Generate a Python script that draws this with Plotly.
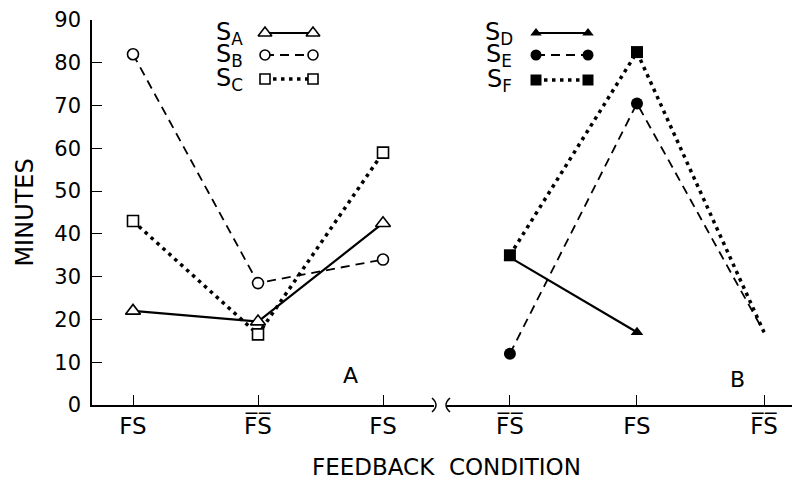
import plotly.graph_objects as go

# ---------------- data ----------------
x_a = [1, 2, 3]
x_b = [4, 5, 6]
tick_text_a = ["FS", "F\u0305S\u0305", "FS"]
tick_text_b = ["F\u0305S\u0305", "FS", "F\u0305S\u0305"]

s_a = [22, 19.5, 42.5]
s_b = [82, 28.5, 34]
s_c = [43, 16.5, 59]
s_d = [34.5, 17, None]
s_e = [12, 70.5, 17]
s_f = [35, 82.5, 17]

names_a = ["S<sub>A</sub>", "S<sub>B</sub>", "S<sub>C</sub>"]
names_b = ["S<sub>D</sub>", "S<sub>E</sub>", "S<sub>F</sub>"]

FONT = "DejaVu Sans"
INK = "black"

# ---------------- styles ----------------
solid = dict(color=INK, width=2.2)
dashed = dict(color=INK, width=1.8, dash="9px,6px")
dotted = dict(color=INK, width=3.5, dash="3.5px,4.5px")

open_tri = dict(symbol="triangle-up", size=13, color="white", opacity=1, line=dict(width=1.6, color=INK))
open_circ = dict(symbol="circle", size=11, color="white", opacity=1, line=dict(width=1.6, color=INK))
open_sq = dict(symbol="square", size=11, color="white", opacity=1, line=dict(width=1.6, color=INK))
fill_tri = dict(symbol="triangle-up", size=11, color=INK, opacity=1, line=dict(width=0, color=INK))
fill_circ = dict(symbol="circle", size=12, color=INK, opacity=1, line=dict(width=0, color=INK))
fill_sq = dict(symbol="square", size=12, color=INK, opacity=1, line=dict(width=0, color=INK))

fig = go.Figure()

# Panel A
for ys, ln, mk in [(s_a, solid, open_tri), (s_b, dashed, open_circ), (s_c, dotted, open_sq)]:
    fig.add_trace(go.Scatter(x=x_a, y=ys, mode="lines+markers", line=ln, marker=mk,
                             xaxis="x", yaxis="y", showlegend=False, cliponaxis=False))

# Panel B (last points drawn without a visible marker, as in the original)
for ys, ln, mk in [(s_d, solid, fill_tri), (s_e, dashed, fill_circ), (s_f, dotted, fill_sq)]:
    m = dict(mk)
    m["size"] = [mk["size"], mk["size"], 0]
    fig.add_trace(go.Scatter(x=x_b, y=ys, mode="lines+markers", line=ln, marker=m,
                             xaxis="x2", yaxis="y", showlegend=False, cliponaxis=False))

# ---------------- hand-drawn style legends (overlay pixel axis) ----------------
LEG_A = dict(text_x=229, x0=265, x1=313, rows=[33, 55, 79])
LEG_B = dict(text_x=499, x0=536, x1=588, rows=[33, 55, 80])
annotations = []
for leg, names, styles in [
    (LEG_A, names_a, [(solid, open_tri), (dashed, open_circ), (dotted, open_sq)]),
    (LEG_B, names_b, [(solid, fill_tri), (dashed, fill_circ), (dotted, fill_sq)]),
]:
    for name, row, (ln, mk) in zip(names, leg["rows"], styles):
        m = dict(mk)
        m["size"] = mk["size"] - 1
        fig.add_trace(go.Scatter(x=[leg["x0"], leg["x1"]], y=[row, row], mode="lines+markers",
                                 line=ln, marker=m, xaxis="x3", yaxis="y3",
                                 showlegend=False, cliponaxis=False, hoverinfo="skip"))
        annotations.append(dict(x=leg["text_x"], y=row, xref="x3", yref="y3", text=name,
                                showarrow=False, font=dict(family=FONT, size=24, color=INK),
                                xanchor="center", yanchor="middle"))

# panel letters
annotations.append(dict(x=2.74, y=7, xref="x", yref="y", text="A", showarrow=False,
                        font=dict(family=FONT, size=22, color=INK)))
annotations.append(dict(x=5.79, y=6, xref="x2", yref="y", text="B", showarrow=False,
                        font=dict(family=FONT, size=22, color=INK)))
# axis titles
annotations.append(dict(x=0.506, y=-0.161, xref="paper", yref="paper",
                        text="FEEDBACK  CONDITION", showarrow=False,
                        font=dict(family=FONT, size=23, color=INK),
                        xanchor="center", yanchor="middle"))
annotations.append(dict(x=-0.097, y=0.5, xref="paper", yref="paper", text="MINUTES",
                        textangle=-90, showarrow=False,
                        font=dict(family=FONT, size=24, color=INK),
                        xanchor="center", yanchor="middle"))

# axis break marks
PW, PH = 700.0, 385.0
def px(xp):
    return (xp - 92) / PW
def py(yp):
    return (405 - yp) / PH
shapes = [
    dict(type="path", xref="paper", yref="paper",
         path=f"M {px(432)} {py(398)} Q {px(440)} {py(405)} {px(432)} {py(412)}",
         line=dict(color=INK, width=1.5)),
    dict(type="path", xref="paper", yref="paper",
         path=f"M {px(450)} {py(398)} Q {px(442)} {py(405)} {px(450)} {py(412)}",
         line=dict(color=INK, width=1.5)),
]

xcommon = dict(showline=True, linecolor=INK, linewidth=1.6, ticks="inside", ticklen=10,
               tickwidth=1.4, tickcolor=INK, showgrid=False, zeroline=False,
               tickfont=dict(family=FONT, size=23, color=INK), anchor="y")

fig.update_layout(
    width=796, height=479,
    margin=dict(l=92, r=4, t=20, b=74),
    paper_bgcolor="white", plot_bgcolor="rgba(0,0,0,0)",
    showlegend=False,
    xaxis=dict(domain=[0, 0.4886], range=[0.672, 3.408], tickmode="array",
               tickvals=x_a, ticktext=tick_text_a, **xcommon),
    xaxis2=dict(domain=[0.507, 1], range=[3.504, 6.22], tickmode="array",
                tickvals=x_b, ticktext=tick_text_b, **xcommon),
    yaxis=dict(domain=[0, 1], range=[0, 90], dtick=10, showline=True, linecolor=INK,
               linewidth=1.6, ticks="inside", ticklen=10, tickwidth=1.4, tickcolor=INK,
               showgrid=False, zeroline=False, anchor="x", ticklabelstandoff=5,
               tickfont=dict(family=FONT, size=21, color=INK)),
    xaxis3=dict(domain=[0, 1], range=[92, 792], visible=False, anchor="y3", fixedrange=True),
    yaxis3=dict(domain=[0, 1], range=[405, 20], visible=False, anchor="x3", fixedrange=True),
    annotations=annotations,
    shapes=shapes,
)

fig.write_html("out.html")
